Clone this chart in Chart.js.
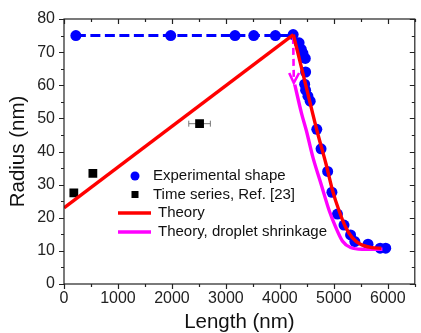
<!DOCTYPE html>
<html>
<head>
<meta charset="utf-8">
<script src="https://cdn.jsdelivr.net/npm/chart.js@4/dist/chart.umd.min.js"></script>
<style>
  html, body { margin: 0; padding: 0; background: #fff; }
  canvas { display: block; }
</style>
</head>
<body>
<canvas id="c" width="421" height="333"></canvas>
<script>
// ---- data ----
const xTickValues = [0, 1000, 2000, 3000, 4000, 5000, 6000];
const yTickValues = [0, 10, 20, 30, 40, 50, 60, 70, 80];

const expLength = [220, 1977, 3169, 3516, 3917, 4246, 4356, 4398, 4428, 4471, 4477, 4459, 4477, 4520, 4562, 4684, 4763, 4885, 4964, 5067, 5188, 5310, 5389, 5633, 5858, 5961];
const expRadius = [75, 75, 75, 75, 75, 75.3, 72.8, 70.8, 69.6, 68.1, 64.0, 60.3, 58.5, 56.7, 55.2, 46.7, 40.8, 34.0, 27.7, 21.1, 17.8, 14.8, 12.8, 12.0, 10.8, 10.8];

const flatLength = [220, 4246];
const flatRadius = [75, 75];

const timeLength = [182, 535, 2512];
const timeRadius = [27.5, 33.4, 48.4];
const errLength = [2312, 2712];
const errRadius = [48.4, 48.4];

const theoryRiseLength = [0, 4250];
const theoryRiseRadius = [23, 75.3];
const theoryFallLength = [4250, 4500, 4700, 4854, 4976, 5097, 5219, 5341, 5493, 5706, 5880];
const theoryFallRadius = [75.3, 58.7, 45.5, 36.3, 28.2, 22.1, 17.1, 14.0, 12.0, 11.0, 10.8];

const shrinkLength = [4276, 4400, 4489, 4611, 4763, 4915, 5036, 5158, 5310, 5523, 5900];
const shrinkRadius = [60.2, 51.6, 46.4, 38.3, 30.2, 22.1, 17.1, 13.0, 11.0, 10.5, 10.5];

const arrowShaftLength = [4246, 4258];
const arrowShaftRadius = [74.6, 61.5];
const arrowHeadLength = [4173, 4258, 4356];
const arrowHeadRadius = [63.7, 60.7, 63.7];

const legendLabels = ['Experimental shape', 'Time series, Ref. [23]', 'Theory', 'Theory, droplet shrinkage'];

// ---- helpers ----
const pts = (xs, ys) => xs.map((v, i) => ({ x: v, y: ys[i] }));
const FONT = "'Liberation Sans', Arial, sans-serif";
const BLUE = '#0000ff', RED = '#ff0000', MAG = '#ff00ff';

const framePlugin = {
  id: 'frame',
  afterDraw(chart) {
    const { ctx, chartArea: { left, right, top, bottom }, scales: { x, y } } = chart;
    ctx.save();
    ctx.strokeStyle = '#222';
    ctx.lineWidth = 1.2;
    ctx.strokeRect(left, top, right - left, bottom - top);
    ctx.beginPath();
    for (let v = 0; v <= 6500; v += 500) {
      const px = Math.round(x.getPixelForValue(v)) + 0.5;
      const len = v % 1000 === 0 ? 5 : 3;
      ctx.moveTo(px, bottom); ctx.lineTo(px, bottom + len);
      ctx.moveTo(px, top); ctx.lineTo(px, top + len);
    }
    for (let v = 0; v <= 80; v += 5) {
      const py = Math.round(y.getPixelForValue(v)) + 0.5;
      const len = v % 10 === 0 ? 5 : 3;
      ctx.moveTo(left, py); ctx.lineTo(left - len, py);
      ctx.moveTo(right, py); ctx.lineTo(right - len, py);
    }
    ctx.stroke();

    // legend
    const lx = 118, tx1 = 153, tx2 = 158;
    const rows = [176, 194.5, 213, 232];
    ctx.font = '15px ' + FONT;
    ctx.textBaseline = 'middle';
    ctx.textAlign = 'left';
    ctx.beginPath();
    ctx.fillStyle = BLUE;
    ctx.arc(135, rows[0], 4.5, 0, Math.PI * 2);
    ctx.fill();
    ctx.fillStyle = '#000';
    ctx.fillRect(131.5, rows[1] - 3.5, 7, 7);
    ctx.lineWidth = 3.3;
    ctx.strokeStyle = RED;
    ctx.beginPath(); ctx.moveTo(lx, rows[2]); ctx.lineTo(151, rows[2]); ctx.stroke();
    ctx.strokeStyle = MAG;
    ctx.beginPath(); ctx.moveTo(lx, rows[3]); ctx.lineTo(151, rows[3]); ctx.stroke();
    ctx.fillStyle = '#111';
    ctx.fillText(legendLabels[0], tx1, rows[0]);
    ctx.fillText(legendLabels[1], tx1, rows[1]);
    ctx.fillText(legendLabels[2], tx2, rows[2]);
    ctx.fillText(legendLabels[3], tx2, rows[3]);
    ctx.restore();
  }
};

new Chart(document.getElementById('c'), {
  type: 'scatter',
  data: {
    datasets: [
      { label: 'Theory rise', data: pts(theoryRiseLength, theoryRiseRadius), showLine: true, borderColor: RED, borderWidth: 3.4, pointRadius: 0, tension: 0, order: 1 },
      { label: 'Theory', data: pts(theoryFallLength, theoryFallRadius), showLine: true, borderColor: RED, borderWidth: 3.4, pointRadius: 0, cubicInterpolationMode: 'monotone', order: 1 },
      { label: 'Theory, droplet shrinkage', data: pts(shrinkLength, shrinkRadius), showLine: true, borderColor: MAG, borderWidth: 3.4, pointRadius: 0, cubicInterpolationMode: 'monotone', order: 2 },
      { label: 'shaft', data: pts(arrowShaftLength, arrowShaftRadius), showLine: true, borderColor: MAG, borderWidth: 2.6, borderDash: [7, 4], pointRadius: 0, order: 2 },
      { label: 'head', data: pts(arrowHeadLength, arrowHeadRadius), showLine: true, borderColor: MAG, borderWidth: 2.6, pointRadius: 0, order: 2 },
      { label: 'Time series, Ref. [23]', data: pts(timeLength, timeRadius), showLine: false, pointStyle: 'rect', pointRadius: 6.2, backgroundColor: '#000', borderColor: '#000', borderWidth: 0, order: 3 },
      { label: 'err', data: pts(errLength, errRadius), showLine: true, borderColor: '#777', borderWidth: 1, pointStyle: 'line', rotation: 90, pointRadius: 3, pointBorderColor: '#777', pointBorderWidth: 1, order: 4 },
      { label: 'flat', data: pts(flatLength, flatRadius), showLine: true, borderColor: BLUE, borderWidth: 3, borderDash: [10, 4.5], pointRadius: 0, order: 5 },
      { label: 'Experimental shape', data: pts(expLength, expRadius), showLine: false, pointStyle: 'circle', pointRadius: 5.5, backgroundColor: BLUE, borderColor: BLUE, borderWidth: 0, order: 6 }
    ]
  },
  options: {
    responsive: false,
    animation: false,
    devicePixelRatio: 1,
    layout: { padding: { top: 19, right: 1, left: 0, bottom: 0 } },
    plugins: { legend: { display: false }, tooltip: { enabled: false } },
    scales: {
      x: {
        type: 'linear', position: 'bottom', min: 0, max: 6500,
        afterBuildTicks: s => { s.ticks = xTickValues.map(v => ({ value: v })); },
        afterFit: s => { s.height = 49; },
        grid: { display: false, drawTicks: false },
        border: { display: false },
        ticks: { font: { family: FONT, size: 16 }, color: '#222', padding: 5, maxRotation: 0, autoSkip: false, callback: v => String(v) },
        title: { display: true, text: 'Length (nm)', font: { family: FONT, size: 20.5, lineHeight: 1 }, color: '#111', padding: { top: 0, bottom: 0 } }
      },
      y: {
        type: 'linear', position: 'left', min: 0, max: 80,
        afterBuildTicks: s => { s.ticks = yTickValues.map(v => ({ value: v })); },
        afterFit: s => { s.width = 64; },
        grid: { display: false, drawTicks: false },
        border: { display: false },
        ticks: { font: { family: FONT, size: 16 }, color: '#222', padding: 9, autoSkip: false, callback: v => String(v) },
        title: { display: true, text: 'Radius (nm)', font: { family: FONT, size: 20.5, lineHeight: 1 }, color: '#111', padding: { top: 8, bottom: 0 } }
      }
    }
  },
  plugins: [framePlugin]
});
</script>
</body>
</html>
